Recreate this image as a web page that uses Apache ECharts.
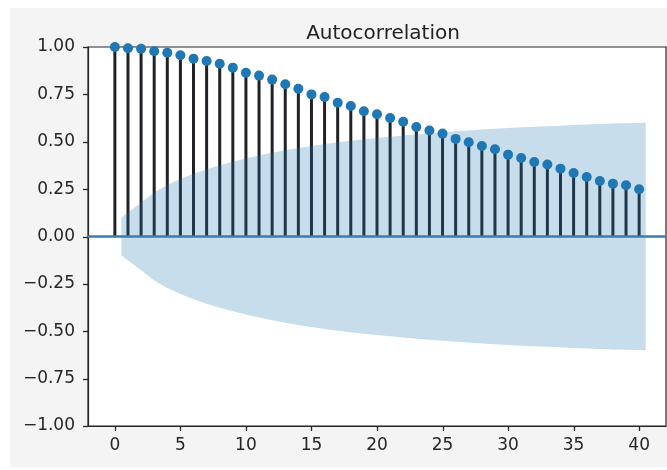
<!DOCTYPE html>
<html>
<head>
<meta charset="utf-8">
<script src="https://cdn.jsdelivr.net/npm/echarts@6/dist/echarts.min.js"></script>
<style>
html,body{margin:0;padding:0;background:#ffffff;}
#panel{position:absolute;left:10px;top:8px;width:657px;height:459px;background:#f4f4f4;}
#chart{position:absolute;left:0;top:0;width:667px;height:470px;}
</style>
</head>
<body>
<div id="panel"></div>
<div id="chart"></div>
<script>
// Lags 0..40
var lags = [0,1,2,3,4,5,6,7,8,9,10,11,12,13,14,15,16,17,18,19,20,21,22,23,24,25,26,27,28,29,30,31,32,33,34,35,36,37,38,39,40];
// Autocorrelation values
var acfValues = [1.000,0.993,0.991,0.978,0.970,0.956,0.938,0.926,0.912,0.891,0.864,0.849,0.828,0.803,0.780,0.750,0.736,0.706,0.689,0.661,0.645,0.625,0.606,0.578,0.559,0.543,0.515,0.497,0.478,0.460,0.432,0.414,0.393,0.380,0.358,0.335,0.314,0.293,0.279,0.270,0.249];
// Confidence band half-width at lags 1..40 (drawn from 0.5 to 40.5)
var bandX = [0.5,2,3,4,5,6,7,8,9,10,11,12,13,14,15,16,17,18,19,20,21,22,23,24,25,26,27,28,29,30,31,32,33,34,35,36,37,38,39,40.5];
var bandHalf = [0.100,0.178,0.232,0.272,0.304,0.331,0.355,0.376,0.395,0.412,0.427,0.442,0.455,0.467,0.478,0.488,0.497,0.505,0.513,0.520,0.527,0.533,0.539,0.545,0.550,0.555,0.560,0.564,0.568,0.572,0.576,0.579,0.582,0.585,0.588,0.591,0.594,0.596,0.598,0.600];
var xTicks = [0,5,10,15,20,25,30,35,40];
var yTicks = [-1,-0.75,-0.5,-0.25,0,0.25,0.5,0.75,1];
var titleText = 'Autocorrelation';

var FONT = 'DejaVu Sans';
var stemData = lags.map(function(l,i){return [l, acfValues[i]];});
var upperData = bandX.map(function(x,i){return [x, bandHalf[i]];});
var lowerData = bandX.map(function(x,i){return [x, -bandHalf[i]];});
var XMIN = -2.05, XMAX = 42.05, YMIN = -1, YMAX = 1;
var AX = '#262626';
var TICK = 5;

var chart = echarts.init(document.getElementById('chart'), null, {renderer:'canvas'});
chart.setOption({
  backgroundColor: 'transparent',
  animation: false,
  title: {
    text: titleText,
    left: 378, top: 19,
    textAlign: 'center',
    textStyle: {fontFamily: FONT, fontSize: 20, fontWeight: 'normal', color: '#222'}
  },
  grid: {
    left: 88, right: 1, top: 47, bottom: 44,
    show: true, backgroundColor: '#ffffff',
    borderColor: AX, borderWidth: 1.2
  },
  xAxis: {
    type: 'value', min: XMIN, max: XMAX,
    axisLine: {show: true, onZero: false, lineStyle: {color: AX, width: 1.2}},
    splitLine: {show: false},
    axisTick: {show: false},
    axisLabel: {fontFamily: FONT, fontSize: 17, color: AX, margin: 11, customValues: xTicks,
      formatter: function(v){ return String(v); }}
  },
  yAxis: {
    type: 'value', min: YMIN, max: YMAX, interval: 0.25,
    axisLine: {show: true, onZero: false, lineStyle: {color: AX, width: 1.2}},
    splitLine: {show: false},
    axisTick: {show: false},
    axisLabel: {fontFamily: FONT, fontSize: 17, color: AX, margin: 13,
      formatter: function(v){ return v.toFixed(2).replace('-', '\u2212'); }}
  },
  series: [
    {
      type: 'bar', data: stemData, barWidth: 3, z: 1,
      itemStyle: {color: '#202226'}, silent: true
    },
    {
      type: 'line', data: upperData, z: 2, symbol: 'none', silent: true,
      lineStyle: {width: 0}, areaStyle: {color: 'rgba(31,119,180,0.25)', origin: 0, opacity: 1}
    },
    {
      type: 'line', data: lowerData, z: 2, symbol: 'none', silent: true,
      lineStyle: {width: 0}, areaStyle: {color: 'rgba(31,119,180,0.25)', origin: 0, opacity: 1}
    },
    {
      type: 'line', data: [[XMIN, 0], [XMAX, 0]], z: 3, symbol: 'none', silent: true,
      lineStyle: {color: '#3b7bb0', width: 2.5}
    },
    {
      type: 'scatter', data: stemData, z: 4, symbol: 'circle', symbolSize: 10, silent: true,
      itemStyle: {color: '#1f77b4', opacity: 1}
    }
  ]
});

// Tick marks placed through the chart's own coordinate conversion
var tickEls = [];
xTicks.forEach(function(v){
  var p = chart.convertToPixel({gridIndex: 0}, [v, YMIN]);
  tickEls.push({type: 'line', silent: true, z: 100,
    shape: {x1: Math.round(p[0]) + 0.5, y1: p[1], x2: Math.round(p[0]) + 0.5, y2: p[1] + TICK},
    style: {stroke: AX, lineWidth: 1.3}});
});
yTicks.forEach(function(v){
  var p = chart.convertToPixel({gridIndex: 0}, [XMIN, v]);
  tickEls.push({type: 'line', silent: true, z: 100,
    shape: {x1: p[0] - TICK, y1: Math.round(p[1]) + 0.5, x2: p[0], y2: Math.round(p[1]) + 0.5},
    style: {stroke: AX, lineWidth: 1.3}});
});
chart.setOption({graphic: tickEls});
</script>
</body>
</html>
